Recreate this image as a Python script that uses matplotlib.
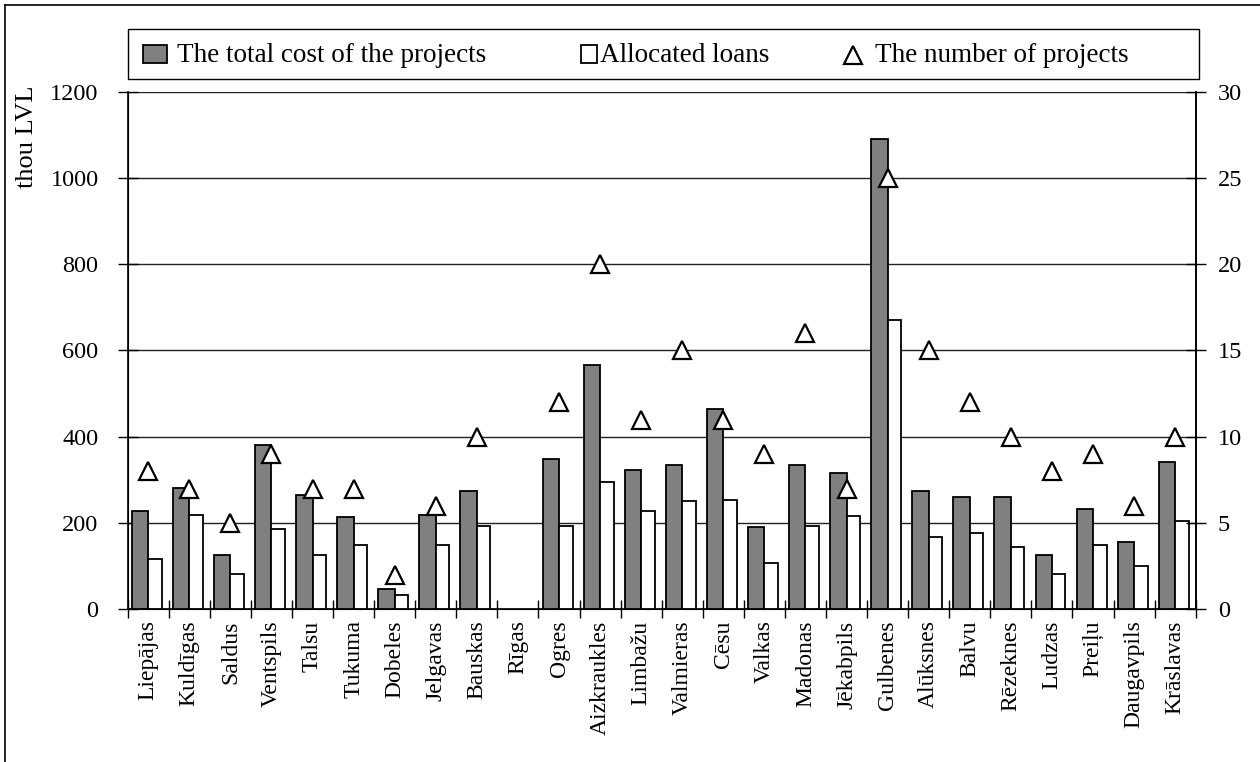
import matplotlib
matplotlib.use("Agg")
import matplotlib.pyplot as plt
import numpy as np
from matplotlib.patches import Rectangle
from matplotlib.lines import Line2D

plt.rcParams['font.family'] = ['Liberation Serif', 'DejaVu Serif']

categories = ["Liepājas", "Kuldīgas", "Saldus", "Ventspils", "Talsu", "Tukuma",
              "Dobeles", "Jelgavas", "Bauskas", "Rīgas", "Ogres", "Aizkraukles",
              "Limbažu", "Valmieras", "Cēsu", "Valkas", "Madonas", "Jēkabpils",
              "Gulbenes", "Alūksnes", "Balvu", "Rēzeknes", "Ludzas", "Preiļu",
              "Daugavpils", "Krāslavas"]
total_cost = [228, 282, 126, 380, 265, 215, 48, 218, 274, np.nan, 348, 566,
              323, 335, 465, 190, 335, 317, 1090, 274, 260, 260, 126, 233, 156, 342]
loans = [116, 218, 82, 186, 126, 149, 33, 149, 194, np.nan, 194, 294,
         228, 250, 253, 107, 194, 216, 670, 167, 178, 145, 82, 149, 101, 204]
n_projects = [8, 7, 5, 9, 7, 7, 2, 6, 10, np.nan, 12, 20,
              11, 15, 11, 9, 16, 7, 25, 15, 12, 10, 8, 9, 6, 10]
left_ticks = [0, 200, 400, 600, 800, 1000, 1200]
right_ticks = [0, 5, 10, 15, 20, 25, 30]

W, H = 1260, 762
fig = plt.figure(figsize=(W / 100, H / 100), dpi=100)
ax = fig.add_axes([127.7 / W, (H - 609.3) / H, 1068 / W, 517.6 / H])

x = np.arange(len(categories))
FS_TICK = 17.5
FS_CAT = 17
FS_LEG = 19.5
FS_YLAB = 19
ax.bar(x, total_cost, width=-0.40, align='edge', color='#808080',
       edgecolor='black', linewidth=1.3, zorder=3)
ax.bar(x, loans, width=0.33, align='edge', color='white',
       edgecolor='black', linewidth=1.3, zorder=3)
ax.set_xlim(-0.5, len(categories) - 0.5)
ax.set_ylim(0, 1200)
ax.set_yticks(left_ticks)
ax.set_yticklabels([str(t) for t in left_ticks], fontsize=FS_TICK)
ax.yaxis.grid(True, color='#222222', linewidth=1.0, zorder=0)
ax.set_axisbelow(True)
ax.set_xticks(np.arange(len(categories) + 1) - 0.5, minor=False)
ax.set_xticklabels([])
ax.set_xticks(x, minor=True)
ax.set_xticklabels(categories, minor=True, rotation=90, fontsize=FS_CAT, va='top', ha='center')
ax.tick_params(axis='x', which='minor', length=0, pad=8)
ax.tick_params(axis='x', which='major', direction='inout', length=13, width=1.0)
ax.tick_params(axis='y', direction='inout', length=14, width=1.0, pad=14)
ax.spines['top'].set_visible(False)
for s in ['left', 'bottom', 'right']:
    ax.spines[s].set_linewidth(1.2)

ax2 = ax.twinx()
ax2.plot(x, n_projects, linestyle='none', marker='^', markersize=12.5,
         markerfacecolor='white', markeredgecolor='black', markeredgewidth=1.6, zorder=5)
ax2.set_ylim(0, 30)
ax2.set_yticks(right_ticks)
ax2.set_yticklabels([str(t) for t in right_ticks], fontsize=FS_TICK)
ax2.tick_params(axis='y', direction='inout', length=14, width=1.0, pad=9)
ax2.spines['top'].set_visible(False)
ax2.spines['right'].set_linewidth(1.2)

# y label
fig.text(27 / W, 1 - 137 / H, "thou LVL", rotation=90, ha='center', va='center', fontsize=FS_YLAB)

# legend (manual)
def fx(px):
    return px / W
def fy(py):
    return 1 - py / H

fig.add_artist(Rectangle((fx(127.7), fy(79)), fx(1199) - fx(127.7), fy(29) - fy(79),
                         transform=fig.transFigure, facecolor='white', edgecolor='black', linewidth=1.0))
fig.add_artist(Rectangle((fx(143), fy(63)), fx(166.5) - fx(143), fy(45) - fy(63),
                         transform=fig.transFigure, facecolor='#808080', edgecolor='black', linewidth=1.3))
fig.text(fx(177), fy(55), "The total cost of the projects", ha='left', va='center', fontsize=FS_LEG)
fig.add_artist(Rectangle((fx(581), fy(63)), fx(597) - fx(581), fy(45) - fy(63),
                         transform=fig.transFigure, facecolor='white', edgecolor='black', linewidth=1.3))
fig.text(fx(600), fy(55), "Allocated loans", ha='left', va='center', fontsize=FS_LEG)
fig.add_artist(Line2D([fx(853)], [fy(55)], transform=fig.transFigure, marker='^', markersize=12.5,
                      markerfacecolor='white', markeredgecolor='black', markeredgewidth=1.6, linestyle='none'))
fig.text(fx(875), fy(55), "The number of projects", ha='left', va='center', fontsize=FS_LEG)

# outer frame (top and left edges)
fig.add_artist(Line2D([fx(4.5), fx(1260)], [fy(5), fy(5)], transform=fig.transFigure, color='black', linewidth=1.2))
fig.add_artist(Line2D([fx(4.5), fx(4.5)], [fy(5), fy(762)], transform=fig.transFigure, color='black', linewidth=1.2))

fig.savefig("out.png", dpi=100)
